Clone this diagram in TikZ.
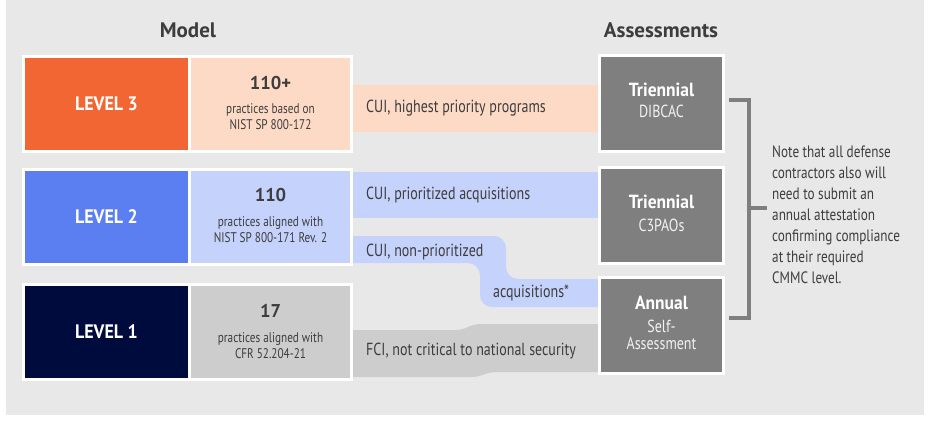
\documentclass[tikz,border=0pt]{standalone}
\usepackage{fontspec}
\setmainfont{PT Sans}
\newfontfamily\cmmcNarrow{PT Sans}[FakeStretch=0.8]
\newfontfamily\cmmcSemi{PT Sans}[FakeStretch=0.92]
\usetikzlibrary{positioning}
\definecolor{cmmcPanel}{HTML}{E8E8E8}
\definecolor{cmmcOrange}{HTML}{F26633}
\definecolor{cmmcPeach}{HTML}{FDDAC5}
\definecolor{cmmcBlue}{HTML}{5B7FF1}
\definecolor{cmmcSky}{HTML}{C5D2FB}
\definecolor{cmmcNavy}{HTML}{000B3D}
\definecolor{cmmcSilver}{HTML}{CDCDCD}
\definecolor{cmmcSlate}{HTML}{7F7F80}
\definecolor{cmmcInk}{HTML}{3D3D3D}
\definecolor{cmmcPale}{HTML}{F2F2F2}

\begin{document}
\begin{tikzpicture}[x=1pt,y=-1pt,line cap=butt,line join=miter]
\path[fill=white] (0,0) rectangle (936,426);
\path[fill=cmmcPanel] (6,0) rectangle (924,415);
\tikzset{heading/.style={text=cmmcInk,font=\bfseries\fontsize{21}{25}\selectfont},lvlframe/.style={fill=white,inner sep=0pt,minimum width=331pt,minimum height=98pt},lvlbox/.style={inner sep=0pt,minimum width=163pt,minimum height=92pt,text=white,font=\cmmcSemi\bfseries\fontsize{19.5}{23}\selectfont},descbox/.style={inner sep=0pt,minimum width=159pt,minimum height=92pt},numtxt/.style={text=cmmcInk,font=\bfseries\fontsize{18.5}{22}\selectfont},desctxt/.style={text=cmmcInk,align=center,inner sep=0pt,font=\cmmcNarrow\fontsize{14}{16}\selectfont},bandtxt/.style={anchor=west,inner sep=0pt,text=cmmcInk,font=\cmmcNarrow\fontsize{17.5}{21}\selectfont},assframe/.style={fill=white,inner sep=0pt,minimum width=127pt,minimum height=99pt},assbox/.style={fill=cmmcSlate,inner sep=0pt,minimum width=121pt,minimum height=93pt},asstitle/.style={text=white,font=\cmmcSemi\bfseries\fontsize{19}{22}\selectfont},asssub/.style={text=cmmcPale,align=center,inner sep=0pt,font=\cmmcNarrow\fontsize{17.5}{17}\selectfont},notetxt/.style={anchor=west,align=left,inner sep=0pt,text=cmmcInk,font=\cmmcNarrow\fontsize{16.5}{21}\selectfont},bracketline/.style={draw=cmmcSlate,line width=4pt}}
\node[heading] (model) at (188,30) {Model}; \node[heading] (assess) at (661,30) {Assessments};
\path[fill=cmmcPeach] (345,85) rectangle (605,132); \path[fill=cmmcSky] (345,172) rectangle (605,218);
\path[fill=cmmcSky,rounded corners=12pt] (340,236) -- (506,236) -- (506,279) -- (610,279) -- (610,307) -- (480,307) -- (480,263) -- (340,263) -- cycle;
\path[fill=cmmcSilver,rounded corners=6pt] (340,330) -- (462,330) -- (474,324) -- (610,324) -- (610,372) -- (490,372) -- (478,377) -- (340,377) -- cycle;
\node[lvlframe] (f3) at (187.5,103.5) {}; \node[lvlbox,fill=cmmcOrange] (l3) at (106.5,103.5) {LEVEL 3}; \node[descbox,fill=cmmcPeach] (d3) at (270.5,103.5) {};
\node[lvlframe] (f2) at (187.5,217) {}; \node[lvlbox,fill=cmmcBlue] (l2) at (106.5,217) {LEVEL 2}; \node[descbox,fill=cmmcSky] (d2) at (270.5,217) {};
\node[lvlframe] (f1) at (187.5,332) {}; \node[lvlbox,fill=cmmcNavy] (l1) at (106.5,332) {LEVEL 1}; \node[descbox,fill=cmmcSilver] (d1) at (270.5,332) {};
\node[numtxt] (n3) at (270.5,83) {110+}; \node[desctxt] (t3) at (270.5,117) {practices based on\\NIST SP 800-172};
\node[numtxt] (n2) at (270.5,195) {110}; \node[desctxt] (t2) at (270.5,230) {practices aligned with\\NIST SP 800-171 Rev. 2};
\node[numtxt] (n1) at (270.5,311) {17}; \node[desctxt] (t1) at (270.5,346) {practices aligned with\\CFR 52.204-21};
\node[bandtxt] (b3) at (366,108) {CUI, highest priority programs}; \node[bandtxt] (b2) at (366,195) {CUI, prioritized acquisitions};
\node[bandtxt] (b2a) at (366,252) {CUI, non-prioritized}; \node[bandtxt] (b2b) at (493,293) {acquisitions*};
\node[bandtxt] (b1) at (366,351) {FCI, not critical to national security};
\node[assframe] (g3) at (661.5,103.5) {}; \node[assbox] (a3) at (661.5,103.5) {};
\node[assframe] (g2) at (661.5,215.5) {}; \node[assbox] (a2) at (661.5,215.5) {};
\node[assframe] (g1) at (661.5,325.5) {}; \node[assbox] (a1) at (661.5,325.5) {};
\node[asstitle] (s3) at (661.5,90) {Triennial}; \node[asssub] (u3) at (661.5,111) {DIBCAC};
\node[asstitle] (s2) at (661.5,202) {Triennial}; \node[asssub] (u2) at (661.5,225) {C3PAOs};
\node[asstitle] (s1) at (661.5,303) {Annual}; \node[asssub] (u1) at (661.5,335) {Self-\\Assessment};
\coordinate (brtop) at (729,100); \coordinate (brbot) at (729,318); \coordinate (brmid) at (767,208);
\draw[bracketline] (brtop) -- (749,100) -- (749,318) -- (brbot); \draw[bracketline] (749,208) -- (brmid);
\node[notetxt] (note) at (772,215) {Note that all defense\\contractors also will\\need to submit an\\annual attestation\\confirming compliance\\at their required\\CMMC level.};
\end{tikzpicture}
\end{document}
